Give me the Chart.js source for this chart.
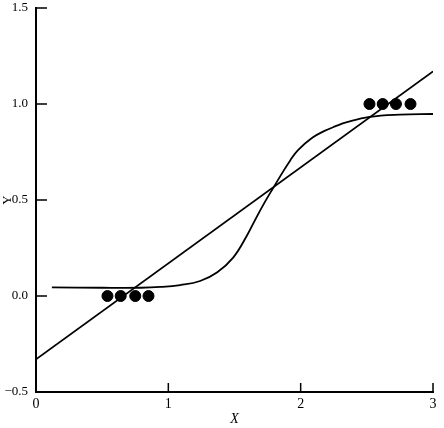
<!DOCTYPE html>
<html>
<head>
<meta charset="utf-8">
<script src="https://cdn.jsdelivr.net/npm/chart.js@4/dist/chart.umd.min.js"></script>
<style>
  html, body { margin: 0; padding: 0; background: #fff; }
  #wrap { width: 444px; height: 428px; }
</style>
</head>
<body>
<div id="wrap"><canvas id="chart"></canvas></div>
<script>
let lowX = [0.54, 0.64, 0.75, 0.85];
let lowY = [0, 0, 0, 0];
let highX = [2.52, 2.62, 2.72, 2.83];
let highY = [1, 1, 1, 1];

// fitted straight line, end points
let lineX = [0, 3];
let lineY = [-0.33, 1.17];

// fitted s-shaped curve
let curveX = [0.12, 0.5, 0.79, 0.94, 1.09, 1.24, 1.37, 1.49, 1.59, 1.67, 1.73, 1.79, 1.86, 1.92, 1.98, 2.09, 2.18, 2.26, 2.35, 2.52, 2.75, 3.0];
let curveY = [0.045, 0.043, 0.043, 0.047, 0.057, 0.078, 0.124, 0.20, 0.31, 0.415, 0.49, 0.56, 0.64, 0.705, 0.76, 0.825, 0.86, 0.883, 0.905, 0.933, 0.945, 0.948];

let xTicks = [0, 1, 2, 3];
let yTicks = [-0.5, 0, 0.5, 1, 1.5];

function pairs(xs, ys) {
    let out = [];
    for (let i = 0; i < xs.length; i++) out.push({ x: xs[i], y: ys[i] });
    return out;
}

const FONT = { family: "'Liberation Serif', 'DejaVu Serif', serif", size: 14 };

// small tick marks drawn inside the plot, as in the original
const innerTicks = {
    id: 'innerTicks',
    afterDraw(chart) {
        let ctx = chart.ctx;
        let xs = chart.scales.x, ys = chart.scales.y;
        ctx.save();
        ctx.strokeStyle = '#000';
        ctx.lineWidth = 1.5;
        ctx.beginPath();
        xTicks.forEach(v => {
            let px = xs.getPixelForValue(v);
            ctx.moveTo(px, ys.bottom);
            ctx.lineTo(px, ys.bottom - 9);
        });
        yTicks.forEach(v => {
            let py = ys.getPixelForValue(v);
            ctx.moveTo(xs.left, py);
            ctx.lineTo(xs.left + 11, py);
        });
        ctx.stroke();
        ctx.restore();
    }
};

let ctx = document.getElementById('chart').getContext('2d');
let chart = new Chart(ctx, {
    type: 'scatter',
    data: {
        datasets: [
            {
                label: 'low',
                data: pairs(lowX, lowY),
                backgroundColor: '#000',
                borderColor: '#000',
                pointRadius: 5.5,
                showLine: false
            },
            {
                label: 'high',
                data: pairs(highX, highY),
                backgroundColor: '#000',
                borderColor: '#000',
                pointRadius: 5.5,
                showLine: false
            },
            {
                label: 'line',
                data: pairs(lineX, lineY),
                borderColor: '#000',
                borderWidth: 1.8,
                pointRadius: 0,
                showLine: true
            },
            {
                label: 'curve',
                data: pairs(curveX, curveY),
                borderColor: '#000',
                borderWidth: 1.8,
                pointRadius: 0,
                showLine: true,
                tension: 0.4
            }
        ]
    },
    options: {
        responsive: true,
        maintainAspectRatio: false,
        animation: false,
        layout: { padding: { top: 8, right: 11, left: 0, bottom: 0 } },
        plugins: { legend: { display: false }, tooltip: { enabled: false } },
        scales: {
            x: {
                type: 'linear',
                min: 0,
                max: 3,
                afterBuildTicks: s => { s.ticks = xTicks.map(v => ({ value: v })); },
                afterFit: s => { s.height = 36; s.paddingRight = 0; s.paddingLeft = 0; },
                border: { display: true, color: '#000', width: 2 },
                grid: { drawOnChartArea: false, drawTicks: false },
                ticks: { color: '#000', font: FONT, padding: 4, maxRotation: 0,
                    callback: v => String(v) },
                title: { display: true, text: 'X', color: '#000',
                    font: { family: FONT.family, size: 14, style: 'italic' }, padding: { top: 0, bottom: 0 } }
            },
            y: {
                type: 'linear',
                min: -0.5,
                max: 1.5,
                afterBuildTicks: s => { s.ticks = yTicks.map(v => ({ value: v })); },
                afterFit: s => { s.width = 36; s.paddingTop = 0; s.paddingBottom = 0; },
                border: { display: true, color: '#000', width: 2 },
                grid: { drawOnChartArea: false, drawTicks: false },
                ticks: { color: '#000', font: { family: FONT.family, size: 13 }, padding: 8,
                    callback: v => v.toFixed(1).replace('-', '\u2212') },
                title: { display: true, text: 'Y', color: '#000',
                    font: { family: FONT.family, size: 13 }, padding: { top: 0, bottom: 0 } }
            }
        }
    },
    plugins: [innerTicks]
});
</script>
</body>
</html>
